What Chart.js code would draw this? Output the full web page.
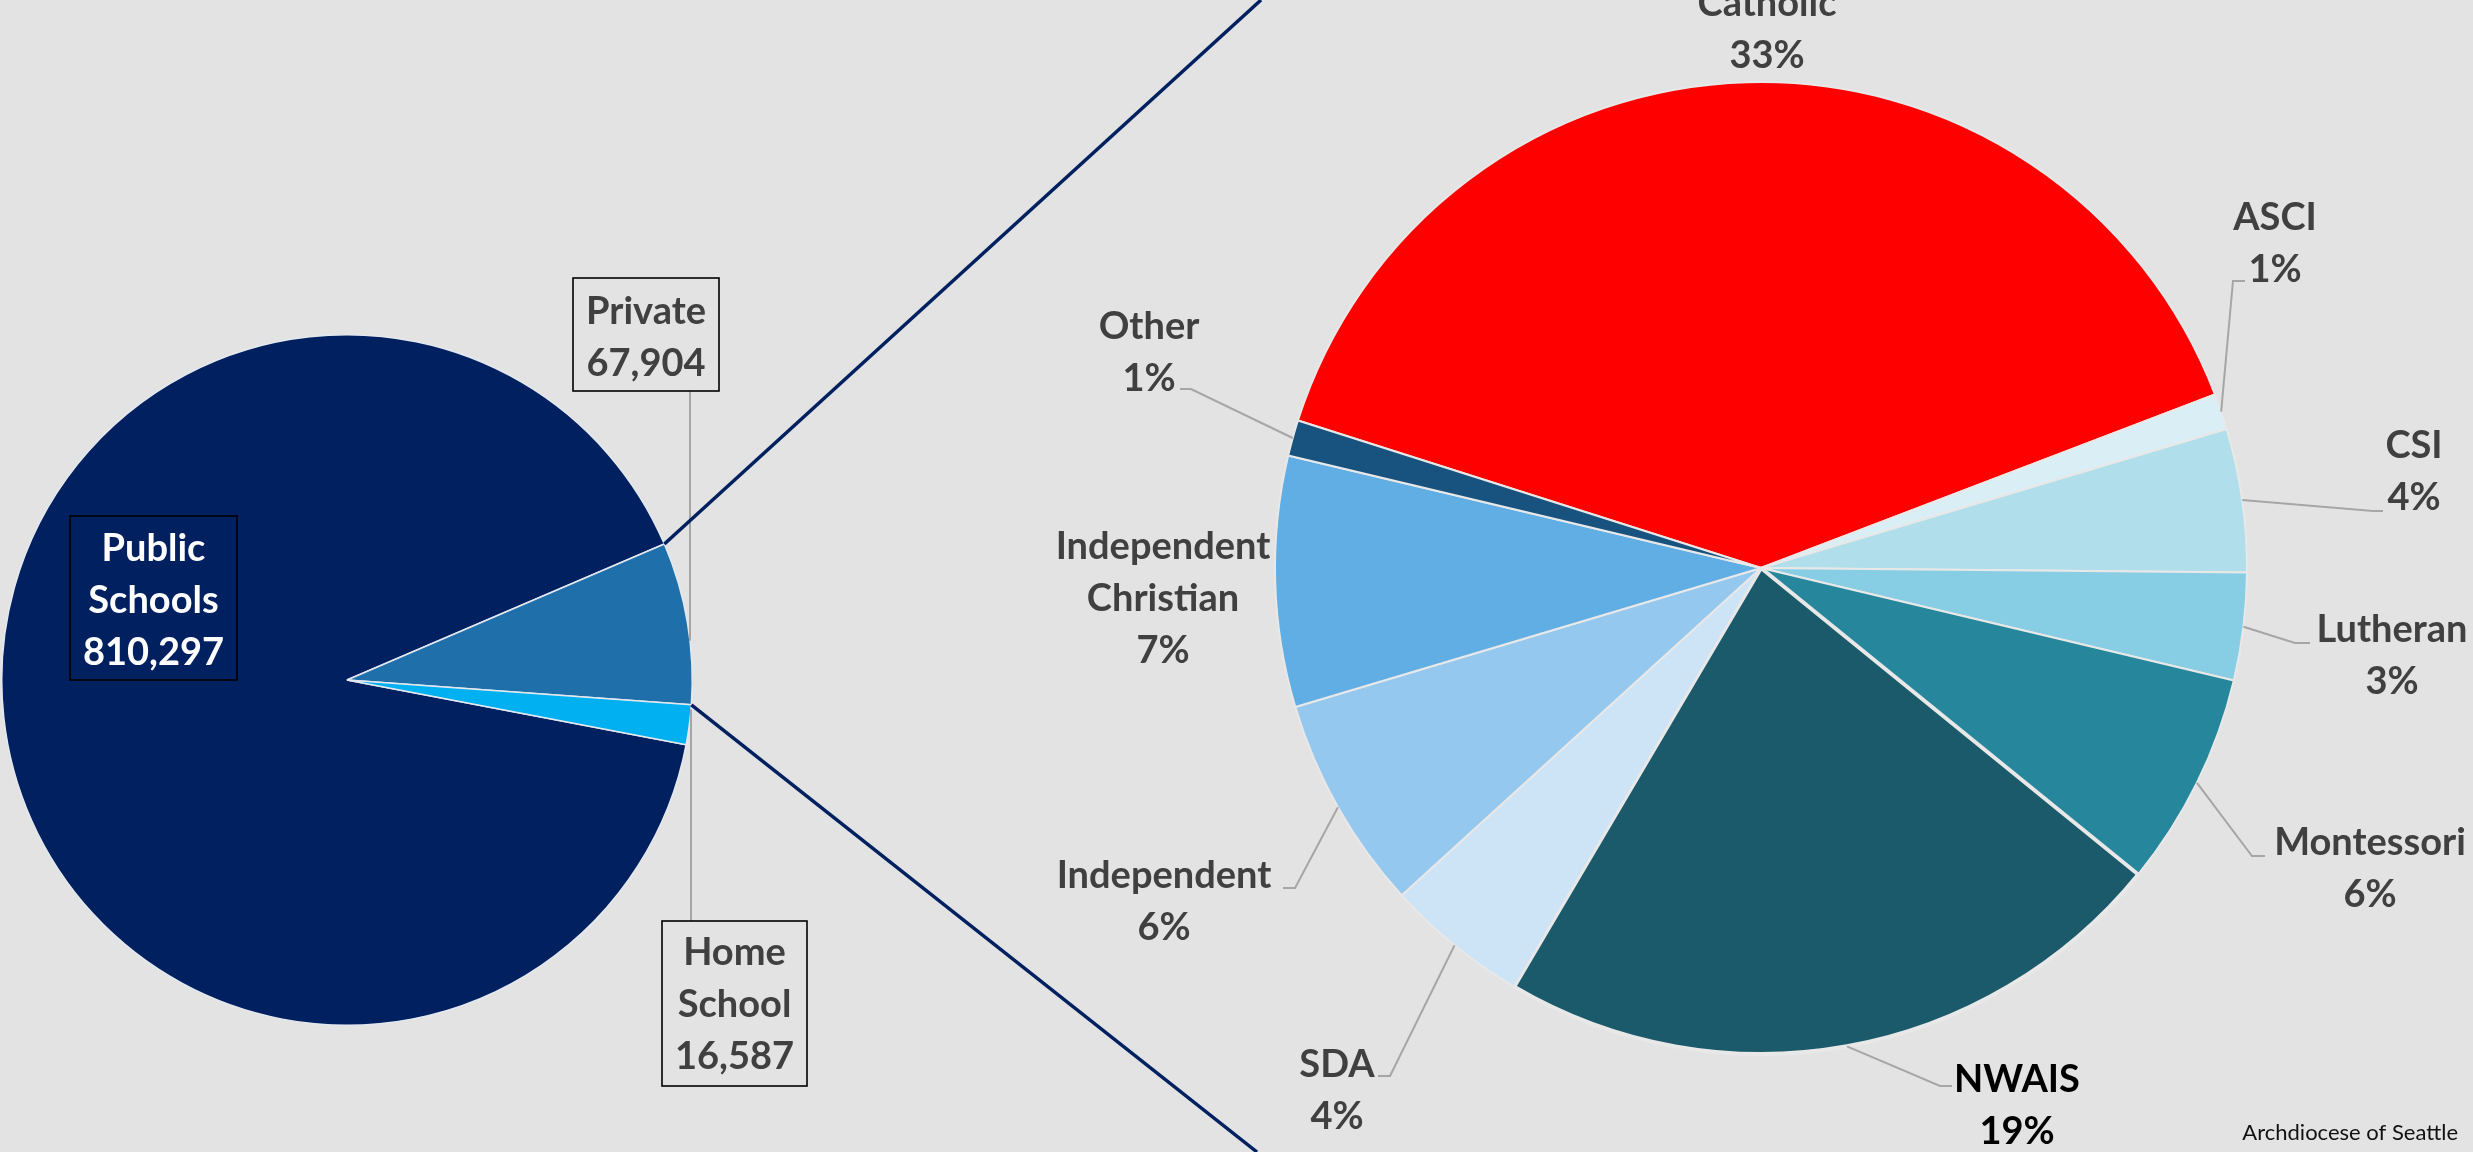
<!DOCTYPE html>
<html><head><meta charset="utf-8">
<script src="https://cdn.jsdelivr.net/npm/chart.js@4.4.1/dist/chart.umd.min.js"></script>
<style>
html,body{margin:0;padding:0;background:#E3E3E3;width:2473px;height:1152px;overflow:hidden}
canvas{position:absolute;left:0;top:0}
</style></head><body>
<canvas id="primary" width="2473" height="1152"></canvas>
<canvas id="secondary" width="2473" height="1152"></canvas>
<script>
// ---- data ----
const primaryLabels = ['Public Schools', 'Private', 'Home School'];
const primaryValues = [810297, 67904, 16587];

const secondaryLabels = ['Catholic', 'ASCI', 'CSI', 'Lutheran', 'Montessori', 'NWAIS', 'SDA', 'Independent', 'Independent Christian', 'Other'];
const secondaryPercents = [33, 1, 4, 3, 6, 19, 4, 6, 7, 1];

const sourceNote = 'Archdiocese of Seattle';

// ---- styles ----
const primaryColors = ['#002060', '#1F6FAA', '#00B0F0'];
const secondaryColors = ['#FF0000', '#DAEFF5', '#B0DFEB', '#87CEE4', '#26869C', '#1B5A6A', '#CCE4F5', '#95C8EE', '#60AEE4', '#17537E'];
const secondaryBorderWidths = [2, 2, 2, 2, 2, 4, 2, 2, 2, 2];
const FONT = 'Lato';
const TEXT_COLOR = '#404040';
const LEADER_COLOR = '#A6A6A6';
const LINE_H = 52;

// ---- label layout (positions only) ----
const primaryLabelLayout = [
  { box: [70, 516, 167, 164], baseline: 561, color: '#FFFFFF', leader: null },
  { box: [573, 278, 146, 113], baseline: 324, color: TEXT_COLOR, leader: { x: 690, side: -1, fromY: 391 } },
  { box: [662, 921, 145, 165], baseline: 965, color: TEXT_COLOR, leader: { x: 691, side: 1, fromY: 921 } }
];
const secondaryLabelLayout = [
  { x: 1767, baseline: 16, color: TEXT_COLOR, elbow: null },
  { x: 2275, baseline: 230, color: TEXT_COLOR, elbow: [2233, 281], end: 2245 },
  { x: 2414, baseline: 458, color: TEXT_COLOR, elbow: [2373, 511], end: 2383 },
  { x: 2392, baseline: 642, color: TEXT_COLOR, elbow: [2295, 643], end: 2310 },
  { x: 2370, baseline: 855, color: TEXT_COLOR, elbow: [2252, 856], end: 2265 },
  { x: 2017, baseline: 1092, color: '#000000', elbow: [1940, 1086], end: 1952 },
  { x: 1337, baseline: 1077, color: TEXT_COLOR, elbow: [1390, 1076], end: 1378 },
  { x: 1164, baseline: 888, color: TEXT_COLOR, elbow: [1295, 888], end: 1283 },
  { x: 1163, baseline: 559, color: TEXT_COLOR, elbow: null },
  { x: 1149, baseline: 339, color: TEXT_COLOR, elbow: [1191, 389], end: 1180 }
];

function fmt(n) { return n.toLocaleString('en-US'); }

const primaryLabelPlugin = {
  id: 'primaryLabels',
  afterDraw(chart) {
    const ctx = chart.ctx;
    const arcs = chart.getDatasetMeta(0).data;
    const cx = arcs[0].x, cy = arcs[0].y, R = arcs[0].outerRadius;
    ctx.save();
    primaryLabelLayout.forEach((L, i) => {
      if (L.leader) {
        const dx = L.leader.x - cx;
        const yArc = cy + L.leader.side * Math.sqrt(Math.max(R * R - dx * dx, 0));
        ctx.strokeStyle = LEADER_COLOR; ctx.lineWidth = 2;
        ctx.beginPath(); ctx.moveTo(L.leader.x, L.leader.fromY); ctx.lineTo(L.leader.x, yArc); ctx.stroke();
      }
      const [bx, by, bw, bh] = L.box;
      ctx.strokeStyle = '#000000'; ctx.lineWidth = 1.6;
      ctx.strokeRect(bx, by, bw, bh);
      const lines = primaryLabels[i].split(' ').concat([fmt(primaryValues[i])]);
      ctx.fillStyle = L.color;
      ctx.font = 'bold 38px ' + FONT;
      ctx.textAlign = 'center'; ctx.textBaseline = 'alphabetic';
      lines.forEach((t, k) => ctx.fillText(t, bx + bw / 2, L.baseline + k * LINE_H));
    });
    ctx.restore();
  }
};

const primaryChart = new Chart(document.getElementById('primary'), {
  type: 'pie',
  data: { labels: primaryLabels, datasets: [{ data: primaryValues, backgroundColor: primaryColors, borderColor: '#E4E9F0', borderWidth: 1.5 }] },
  options: {
    responsive: false, animation: false, events: [],
    rotation: 100.8,
    layout: { padding: { left: 1, right: 1780, top: 334, bottom: 126 } },
    plugins: { legend: { display: false }, tooltip: { enabled: false } }
  },
  plugins: [primaryLabelPlugin]
});

const secondaryLabelPlugin = {
  id: 'secondaryLabels',
  afterDraw(chart) {
    const ctx = chart.ctx;
    ctx.save();
    // connector lines from the split slice of the primary pie
    const pArc = primaryChart.getDatasetMeta(0).data[1];
    const area = chart.chartArea;
    const H = chart.height;
    const p1 = [pArc.x + pArc.outerRadius * Math.cos(pArc.startAngle), pArc.y + pArc.outerRadius * Math.sin(pArc.startAngle)];
    const p2 = [pArc.x + pArc.outerRadius * Math.cos(pArc.endAngle), pArc.y + pArc.outerRadius * Math.sin(pArc.endAngle)];
    ctx.strokeStyle = '#002060'; ctx.lineWidth = 3.5; ctx.lineCap = 'butt';
    ctx.beginPath(); ctx.moveTo(p1[0], p1[1]); ctx.lineTo(area.left - 12, 0); ctx.stroke();
    ctx.beginPath(); ctx.moveTo(p2[0], p2[1]); ctx.lineTo(area.left - 16, H); ctx.stroke();

    const arcs = chart.getDatasetMeta(0).data;
    secondaryLabelLayout.forEach((L, i) => {
      const a = arcs[i];
      if (L.elbow) {
        const mid = (a.startAngle + a.endAngle) / 2;
        const sx = a.x + a.outerRadius * Math.cos(mid), sy = a.y + a.outerRadius * Math.sin(mid);
        ctx.strokeStyle = LEADER_COLOR; ctx.lineWidth = 2;
        ctx.beginPath(); ctx.moveTo(sx, sy); ctx.lineTo(L.elbow[0], L.elbow[1]); ctx.lineTo(L.end, L.elbow[1]); ctx.stroke();
      }
      const lines = secondaryLabels[i].split(' ').concat([secondaryPercents[i] + '%']);
      ctx.fillStyle = L.color;
      ctx.font = 'bold 38px ' + FONT;
      ctx.textAlign = 'center'; ctx.textBaseline = 'alphabetic';
      lines.forEach((t, k) => ctx.fillText(t, L.x, L.baseline + k * LINE_H));
    });
    ctx.fillStyle = '#111111';
    ctx.font = '22px ' + FONT;
    ctx.textAlign = 'right';
    ctx.fillText(sourceNote, 2458, 1140);
    ctx.restore();
  }
};

new Chart(document.getElementById('secondary'), {
  type: 'pie',
  data: { labels: secondaryLabels, datasets: [{ data: secondaryPercents, backgroundColor: secondaryColors, borderColor: '#E8E8E8', borderWidth: secondaryBorderWidths }] },
  options: {
    responsive: false, animation: false, events: [],
    rotation: 287.66,
    layout: { padding: { left: 1273, right: 224, top: 80, bottom: 96 } },
    plugins: { legend: { display: false }, tooltip: { enabled: false } }
  },
  plugins: [secondaryLabelPlugin]
});
</script>
</body></html>
